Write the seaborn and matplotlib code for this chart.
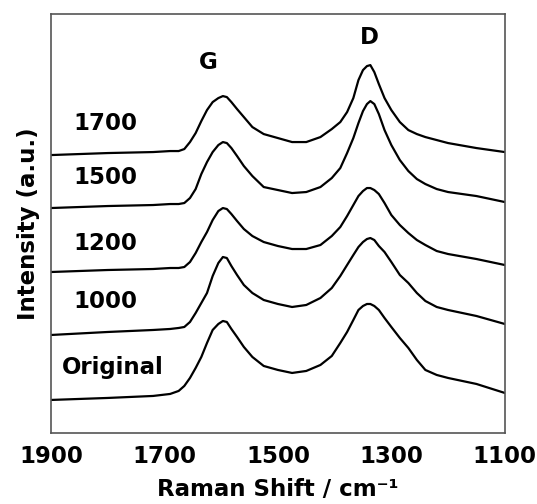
import matplotlib
matplotlib.use("Agg")
import matplotlib.pyplot as plt
import numpy as np
import pandas as pd
import seaborn as sns

# Raman shift positions (cm-1) and stacked intensities (a.u.)
shift = [1900, 1800, 1720, 1690, 1675, 1665, 1655, 1645, 1635, 1625, 1615, 1605,
         1597, 1590, 1582, 1572, 1560, 1545, 1525, 1500, 1475, 1450, 1425, 1405,
         1390, 1378, 1367, 1358, 1350, 1343, 1337, 1330, 1322, 1312, 1300, 1285,
         1270, 1255, 1240, 1220, 1200, 1150, 1100]

i_1700 = [278, 280, 281, 282, 282, 284, 291, 300, 312, 323, 331, 335, 337, 336, 331,
          324, 316, 306, 299, 295, 291, 291, 296, 304, 311, 321, 335, 353, 363, 367,
          368, 361, 349, 335, 323, 311, 303, 299, 296, 293, 290, 285, 281]
i_1500 = [225, 227, 228, 229, 229, 230, 235, 244, 259, 271, 281, 288, 291, 290, 285,
          277, 267, 257, 246, 243, 240, 241, 246, 255, 265, 280, 295, 310, 322, 329,
          332, 329, 319, 303, 288, 273, 262, 254, 249, 244, 241, 237, 231]
i_1200 = [161, 163, 164, 165, 165, 166, 171, 180, 191, 201, 213, 222, 225, 224, 219,
          212, 204, 197, 191, 187, 184, 184, 188, 197, 206, 217, 228, 237, 242, 245,
          245, 243, 239, 230, 218, 208, 200, 193, 188, 182, 179, 174, 168]
i_1000 = [98, 101, 103, 104, 105, 106, 111, 120, 130, 140, 157, 170, 176, 175, 167,
          158, 148, 140, 133, 129, 126, 128, 135, 145, 157, 168, 178, 186, 191, 194,
          195, 193, 187, 181, 171, 158, 150, 140, 132, 126, 123, 117, 109]
i_orig = [33, 35, 37, 39, 42, 47, 55, 65, 76, 90, 103, 109, 112, 111, 104, 96, 86,
          76, 67, 63, 60, 62, 68, 77, 90, 101, 113, 123, 127, 129, 129, 127, 123, 115,
          106, 95, 85, 73, 63, 58, 55, 49, 40]

labels = ["1700", "1500", "1200", "1000", "Original"]
label_y = [310, 256, 190, 131, 65]

df = pd.DataFrame({
    "shift": shift * 5,
    "intensity": i_1700 + i_1500 + i_1200 + i_1000 + i_orig,
    "sample": [lab for lab in labels for _ in shift],
})

sns.set_style("white")
plt.rcParams["font.family"] = ["DejaVu Sans"]
plt.rcParams["font.weight"] = "bold"
plt.rcParams["text.color"] = "black"
plt.rcParams["axes.labelcolor"] = "black"
fs = 16.5

fig = plt.figure(figsize=(5.37, 5.04), dpi=100)
ax = fig.add_axes([0.095, 0.141, 0.845, 0.831])

sns.lineplot(data=df, x="shift", y="intensity", units="sample", estimator=None,
             color="black", lw=1.6, ax=ax, legend=False)

ax.set_xlim(1900, 1100)
ax.set_ylim(0, 419)
ax.set_xticks([1900, 1700, 1500, 1300, 1100])
ax.set_yticks([])
ax.tick_params(axis="x", direction="in", length=4, width=0.8, labelsize=fs,
               pad=9, colors="#333333", labelcolor="black")
for lab in ax.get_xticklabels():
    lab.set_fontweight("bold")
for sp in ax.spines.values():
    sp.set_color("#555555")
    sp.set_linewidth(1.2)

for lab, y in zip(labels, label_y):
    x0 = 1881 if lab == "Original" else 1861
    ax.text(x0, y, lab, fontsize=fs, fontweight="bold", va="center", ha="left",
            color="black")

ax.text(1623, 371, "G", fontsize=fs, fontweight="bold", ha="center", va="center",
        color="black")
ax.text(1338, 396, "D", fontsize=fs, fontweight="bold", ha="center", va="center",
        color="black")

ax.set_xlabel("Raman Shift / cm\u207b\u00b9", fontsize=fs, fontweight="bold",
              labelpad=7, color="black")
ax.set_ylabel("Intensity (a.u.)", fontsize=fs, fontweight="bold", labelpad=8,
              color="black")

fig.savefig("out.png", dpi=100)
